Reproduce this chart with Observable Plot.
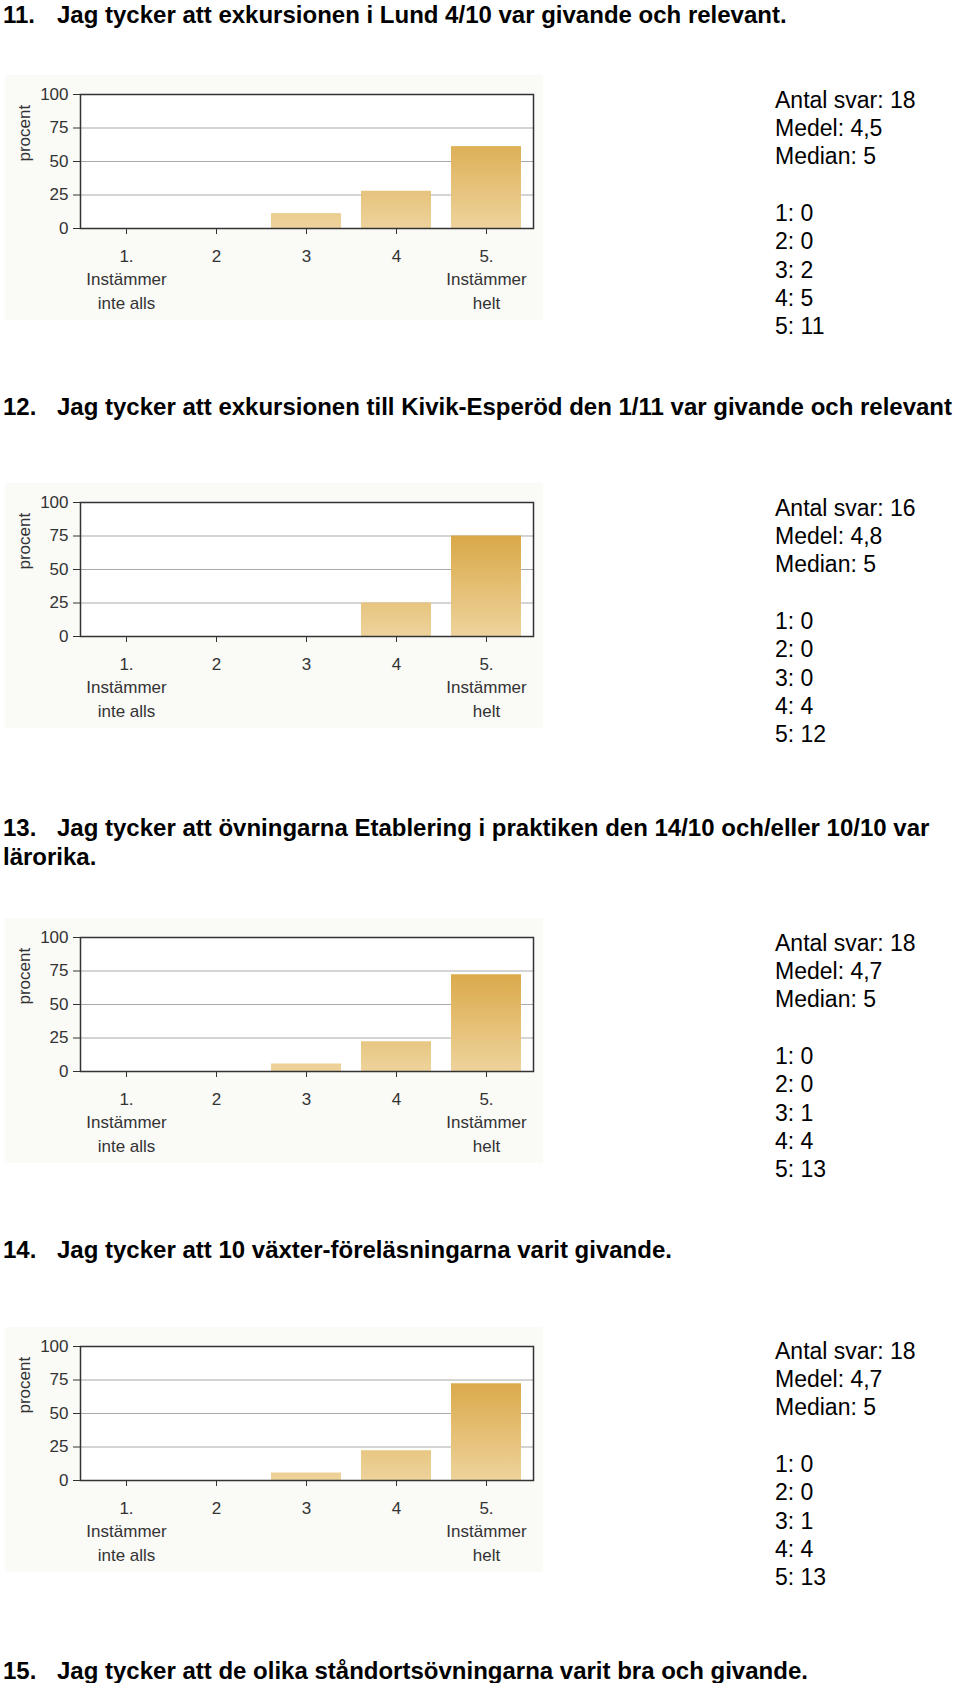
<!DOCTYPE html>
<html><head><meta charset="utf-8">
<script src="https://cdn.jsdelivr.net/npm/d3@7"></script>
<script src="https://cdn.jsdelivr.net/npm/@observablehq/plot@0.6"></script>
<style>
html,body{margin:0;padding:0;background:#fff;}
#page{position:relative;width:960px;height:1683px;overflow:hidden;font-family:"Liberation Sans",Arial,sans-serif;}
.tl{position:absolute;font-weight:bold;font-size:24px;line-height:29px;white-space:nowrap;color:#000;}
.stats{position:absolute;left:775px;font-size:23px;line-height:28.3px;color:#000;white-space:pre;}
.chart{position:absolute;left:5px;}
</style></head><body><div id="page"></div>
<script>
// ---- data ----
const categories = ["1","2","3","4","5"];
const tickLabels = ["1.\nInstämmer\ninte alls","2","3","4","5.\nInstämmer\nhelt"];
const yTicks = [0,25,50,75,100];

const questionNumbers = ["11.","12.","13.","14.","15."];
const questionLines = [
  ["Jag tycker att exkursionen i Lund 4/10 var givande och relevant."],
  ["Jag tycker att exkursionen till Kivik-Esperöd den 1/11 var givande och relevant"],
  ["Jag tycker att övningarna Etablering i praktiken den 14/10 och/eller 10/10 var", "lärorika."],
  ["Jag tycker att 10 växter-föreläsningarna varit givande."],
  ["Jag tycker att de olika ståndortsövningarna varit bra och givande."]
];

const percent11 = [0, 0, 11.1, 27.8, 61.1];
const percent12 = [0, 0, 0, 25, 75];
const percent13 = [0, 0, 5.6, 22.2, 72.2];
const percent14 = [0, 0, 5.6, 22.2, 72.2];

const counts11 = [0, 0, 2, 5, 11];
const counts12 = [0, 0, 0, 4, 12];
const counts13 = [0, 0, 1, 4, 13];
const counts14 = [0, 0, 1, 4, 13];

const antalSvar = [18, 16, 18, 18];
const medel = ["4,5", "4,8", "4,7", "4,7"];
const median = ["5", "5", "5", "5"];

// ---- layout ----
const page = document.getElementById("page");
const titleCenters = [14, 406, 827, 1249, 1670];
const chartTops = [75, 483, 918, 1327];
const statsFirstCenters = [100, 508, 943, 1351];

// titles
questionNumbers.forEach((num, i) => {
  const top = titleCenters[i] - 14.5;
  const n = document.createElement("div");
  n.className = "tl"; n.style.left = "3px"; n.style.top = top + "px"; n.textContent = num;
  page.appendChild(n);
  questionLines[i].forEach((line, j) => {
    const d = document.createElement("div");
    d.className = "tl";
    d.style.left = (j === 0 ? 57 : 3) + "px";
    d.style.top = (top + j * 29) + "px";
    d.textContent = line;
    page.appendChild(d);
  });
});

// stats blocks
const allCounts = [counts11, counts12, counts13, counts14];
allCounts.forEach((c, i) => {
  const d = document.createElement("div");
  d.className = "stats";
  d.style.top = (statsFirstCenters[i] - 14.15) + "px";
  const lines = [`Antal svar: ${antalSvar[i]}`, `Medel: ${medel[i]}`, `Median: ${median[i]}`, ""]
    .concat(categories.map((k, j) => `${k}: ${c[j]}`));
  d.textContent = lines.join("\n");
  page.appendChild(d);
});

// charts
function drawChart(pct, idx, top) {
  const W = 538, H = 245, mt = 19, mb = 92, ml = 75, mr = 10;
  const gid = "gold" + idx;
  const data = categories.map((c, i) => ({cat: c, pct: pct[i]}));
  const plot = Plot.plot({
    width: W, height: H,
    marginTop: mt, marginBottom: mb, marginLeft: ml, marginRight: mr,
    style: {background: "#fafaf7", color: "#333", fontFamily: "Liberation Sans, Arial, sans-serif", fontSize: "17px", overflow: "visible"},
    x: {domain: categories, paddingInner: 0.22, paddingOuter: 0.11, label: null},
    y: {domain: [0, 100], label: null},
    marks: [
      () => {
        const defs = d3.create("svg:defs");
        const g = defs.append("linearGradient").attr("id", gid)
          .attr("gradientUnits", "userSpaceOnUse")
          .attr("x1", 0).attr("x2", 0).attr("y1", mt).attr("y2", H - mb);
        g.append("stop").attr("offset", "0%").attr("stop-color", "#d39a2c");
        g.append("stop").attr("offset", "100%").attr("stop-color", "#eed39c");
        return defs.node();
      },
      Plot.frame({fill: "#ffffff", stroke: null}),
      Plot.ruleY([25, 50, 75], {stroke: "#aaaaaa", strokeWidth: 1.2}),
      Plot.barY(data, {x: "cat", y: "pct", fill: `url(#${gid})`}),
      Plot.frame({stroke: "#333", strokeWidth: 1.5}),
      Plot.axisY({ticks: yTicks, tickSize: 7, tickPadding: 5, fontSize: 17, label: null}),
      Plot.axisX({tickSize: 6, tickPadding: 10, fontSize: 17, lineHeight: 1.41,
        tickFormat: d => tickLabels[categories.indexOf(d)], label: null}),
      Plot.text(["procent"], {text: d => d, frameAnchor: "left", rotate: -90, dx: -56, fontSize: 17, fill: "#333"})
    ]
  });
  plot.classList.add("chart");
  plot.style.top = top + "px";
  page.appendChild(plot);
}
drawChart(percent11, 0, chartTops[0]);
drawChart(percent12, 1, chartTops[1]);
drawChart(percent13, 2, chartTops[2]);
drawChart(percent14, 3, chartTops[3]);
</script>
</body></html>
